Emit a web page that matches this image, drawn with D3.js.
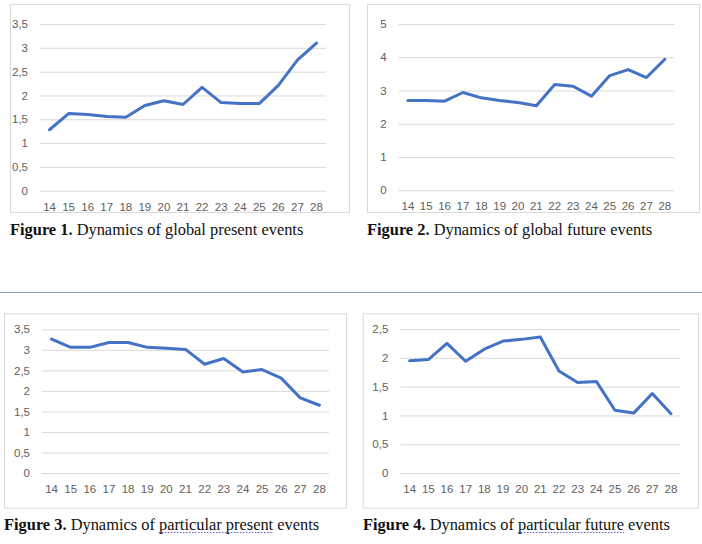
<!DOCTYPE html>
<html>
<head>
<meta charset="utf-8">
<script src="https://cdn.jsdelivr.net/npm/d3@7"></script>
<style>
  body { margin: 0; background: #fff; }
  svg { display: block; }
</style>
</head>
<body>
<svg id="root" width="702" height="544"></svg>
<script>
// categories shared by all four charts
var years = ['14','15','16','17','18','19','20','21','22','23','24','25','26','27','28'];

// series values
var globalPresent     = [1.28,1.62,1.60,1.56,1.54,1.79,1.89,1.81,2.17,1.85,1.83,1.83,2.21,2.74,3.10];
var globalFuture      = [2.70,2.70,2.68,2.94,2.78,2.70,2.64,2.54,3.18,3.13,2.83,3.45,3.63,3.39,3.94];
var particularPresent = [3.26,3.06,3.06,3.18,3.18,3.06,3.04,3.01,2.65,2.79,2.46,2.52,2.31,1.83,1.65];
var particularFuture  = [1.95,1.97,2.25,1.94,2.15,2.29,2.32,2.36,1.77,1.57,1.59,1.09,1.04,1.38,1.03];

// y tick labels
var ticksHalf35 = [0,0.5,1,1.5,2,2.5,3,3.5];
var ticksOne5   = [0,1,2,3,4,5];
var ticksHalf25 = [0,0.5,1,1.5,2,2.5];

// caption text: bold part, plain part, underlined (spell-check) part
var captionBold  = ['Figure 1.', 'Figure 2.', 'Figure 3.', 'Figure 4.'];
var captionText  = ['Dynamics of global present events', 'Dynamics of global future events',
                    'Dynamics of particular present events', 'Dynamics of particular future events'];
var captionWavy  = [null, null, 'particular present', 'particular future'];

var lineColour = '#4472C4';
var gridColour = '#d9d9d9';
var labelColour = '#606060';

var svg = d3.select('#root');

// page separator line
svg.append('line')
  .attr('x1', 0).attr('x2', 702)
  .attr('y1', 292.5).attr('y2', 292.5)
  .attr('stroke', '#8fa0c6').attr('stroke-width', 1);

// layout of each panel: frame box, plot area, caption position
var panels = [
  {values: globalPresent, ticks: ticksHalf35, box: [10, 4, 349, 212], plot: [40, 24, 326, 190.7], cap: [10, 235]},
  {values: globalFuture, ticks: ticksOne5, box: [367, 4, 699, 212], plot: [398.7, 24, 674, 190.3], cap: [367, 235]},
  {values: particularPresent, ticks: ticksHalf35, box: [4, 313.3, 346, 507.7], plot: [42, 329.3, 329, 473], cap: [4, 530]},
  {values: particularFuture, ticks: ticksHalf25, box: [362.7, 313.3, 698, 507.7], plot: [400.3, 329, 680.3, 473], cap: [363, 530]}
];

var fmt = function(v) { return String(v).replace('.', ','); };

panels.forEach(function(p, i)
{
  var g = svg.append('g');

  // chart frame
  g.append('rect')
    .attr('x', p.box[0] + 0.5).attr('y', p.box[1] + 0.5)
    .attr('width', p.box[2] - p.box[0]).attr('height', p.box[3] - p.box[1])
    .attr('fill', '#fff').attr('stroke', gridColour);

  var x = d3.scaleBand()
    .domain(years)
    .range([p.plot[0], p.plot[2]]);

  var yMax = p.ticks[p.ticks.length - 1];
  var y = d3.scaleLinear()
    .domain([0, yMax])
    .range([p.plot[3], p.plot[1]]);

  // gridlines + y labels via axisLeft
  var yAxis = g.append('g')
    .attr('class', 'y-axis')
    .attr('transform', 'translate(' + p.plot[0] + ',0)')
    .call(d3.axisLeft(y).tickValues(p.ticks).tickFormat(fmt)
          .tickSize(-(p.plot[2] - p.plot[0])).tickPadding(12));
  yAxis.select('.domain').remove();
  yAxis.selectAll('.tick line').attr('stroke', gridColour).attr('stroke-width', 1);
  yAxis.selectAll('.tick text')
    .attr('fill', labelColour)
    .style('font-family', '"Liberation Sans", Arial, sans-serif')
    .style('font-size', '11.5px');

  // x labels
  var xAxis = g.append('g')
    .attr('class', 'x-axis')
    .attr('transform', 'translate(0,' + p.plot[3] + ')')
    .call(d3.axisBottom(x).tickSize(0).tickPadding(12));
  xAxis.select('.domain').remove();
  xAxis.selectAll('.tick text')
    .attr('fill', labelColour)
    .style('font-family', '"Liberation Sans", Arial, sans-serif')
    .style('font-size', '11.5px');

  // the series line
  var line = d3.line()
    .x(function(d, j) { return x(years[j]) + x.bandwidth() / 2; })
    .y(function(d) { return y(d); });
  g.append('path')
    .datum(p.values)
    .attr('d', line)
    .attr('fill', 'none')
    .attr('stroke', lineColour)
    .attr('stroke-width', 3)
    .attr('stroke-linejoin', 'round')
    .attr('stroke-linecap', 'round');

  // caption
  var cap = g.append('text')
    .attr('x', p.cap[0]).attr('y', p.cap[1])
    .attr('fill', '#111')
    .style('font-family', '"Liberation Serif", "Times New Roman", serif')
    .style('font-size', '16.4px');
  cap.append('tspan').attr('font-weight', 'bold').text(captionBold[i]);
  cap.append('tspan').text(' ' + captionText[i]);

  // dotted spell-check underline under the flagged words
  if (captionWavy[i])
  {
    var full = captionBold[i] + ' ' + captionText[i];
    var node = cap.node();
    var start = full.indexOf(captionWavy[i]);
    var a = node.getStartPositionOfChar(start).x;
    var b = node.getEndPositionOfChar(start + captionWavy[i].length - 1).x;
    g.append('line')
      .attr('x1', a).attr('x2', b)
      .attr('y1', p.cap[1] + 2.5).attr('y2', p.cap[1] + 2.5)
      .attr('stroke', '#6a5acd').attr('stroke-width', 1.2)
      .attr('stroke-dasharray', '1.5,1.5');
  }
});
</script>
</body>
</html>
